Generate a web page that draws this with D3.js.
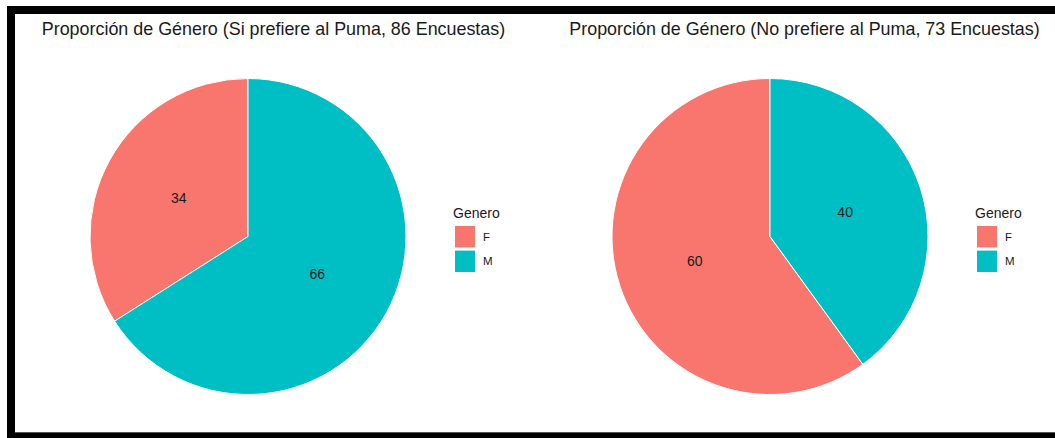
<!DOCTYPE html>
<html>
<head>
<meta charset="utf-8">
<script src="https://cdn.jsdelivr.net/npm/d3@7"></script>
<style>
  html, body { margin: 0; padding: 0; background: #fff; }
  svg { display: block; }
  text { font-family: "Liberation Sans", Arial, sans-serif; fill: #1a1a1a; }
</style>
</head>
<body>
<svg id="chart" width="1055" height="438"></svg>
<script>
// ---- Data ----
const generos = ["F", "M"];
const colores = ["#F8766D", "#00BFC4"];
const siPuma = [34, 66];   // % F, M (Si prefiere al Puma)
const noPuma = [60, 40];   // % F, M (No prefiere al Puma)
const encuestas = [86, 73];
const titulos = [
  "Proporción de Género (Si prefiere al Puma, 86 Encuestas)",
  "Proporción de Género (No prefiere al Puma, 73 Encuestas)"
];
const legendTitle = "Genero";

// ---- Layout ----
const svg = d3.select("#chart");
const W = 1055, H = 438;
svg.append("rect").attr("width", W).attr("height", H).attr("fill", "#fff");

const panels = [
  { values: siPuma, title: titulos[0], cx: 248, cy: 236.5, tx: 273.5, lx: 455 },
  { values: noPuma, title: titulos[1], cx: 770, cy: 236.5, tx: 804.5, lx: 977 }
];
const R = 158;

const color = d3.scaleOrdinal().domain(generos).range(colores);
// M goes first clockwise from 12 o'clock, F fills the rest
const pie = d3.pie()
  .value(d => d.value)
  .sort((a, b) => d3.descending(a.genero, b.genero))
  .startAngle(0).endAngle(2 * Math.PI);
const arc = d3.arc().innerRadius(0).outerRadius(R);

panels.forEach(p => {
  const data = generos.map((g, i) => ({ genero: g, value: p.values[i] }));
  const g = svg.append("g").attr("transform", `translate(${p.cx},${p.cy})`);
  const arcs = pie(data);
  g.selectAll("path").data(arcs).join("path")
    .attr("d", arc)
    .attr("fill", d => color(d.data.genero))
    .attr("stroke", "#fff").attr("stroke-width", 1);
  g.selectAll("text.lbl").data(arcs).join("text")
    .attr("class", "lbl")
    .attr("transform", d => `translate(${arc.centroid(d)})`)
    .attr("text-anchor", "middle")
    .attr("dy", "0.35em")
    .style("font-size", "14px")
    .text(d => d.data.value);

  svg.append("text")
    .attr("x", p.tx).attr("y", 35)
    .attr("text-anchor", "middle")
    .style("font-size", "17.9px")
    .text(p.title);

  // Legend
  const lg = svg.append("g").attr("transform", `translate(${p.lx},0)`);
  lg.append("text").attr("x", -2).attr("y", 218)
    .style("font-size", "14px").text(legendTitle);
  const keyY = d3.scaleBand().domain(generos).range([226, 272]).paddingInner(0.13);
  lg.selectAll("rect.key").data(generos).join("rect")
    .attr("class", "key")
    .attr("x", 0).attr("y", d => keyY(d))
    .attr("width", 20).attr("height", keyY.bandwidth())
    .attr("fill", d => color(d));
  lg.selectAll("text.key").data(generos).join("text")
    .attr("class", "key")
    .attr("x", 28).attr("y", d => keyY(d) + keyY.bandwidth() / 2)
    .attr("dy", "0.35em")
    .style("font-size", "11.5px")
    .text(d => d);
});

// Frame (black border from the screenshot)
svg.append("rect").attr("x", 7).attr("y", 6).attr("width", W - 7).attr("height", 8).attr("fill", "#000");
svg.append("rect").attr("x", 7).attr("y", 6).attr("width", 8).attr("height", H - 6).attr("fill", "#000");
svg.append("rect").attr("x", 15).attr("y", 432).attr("width", W - 15).attr("height", 1).attr("fill", "#555");
svg.append("rect").attr("x", 7).attr("y", 433).attr("width", W - 7).attr("height", 5).attr("fill", "#000");
</script>
</body>
</html>
